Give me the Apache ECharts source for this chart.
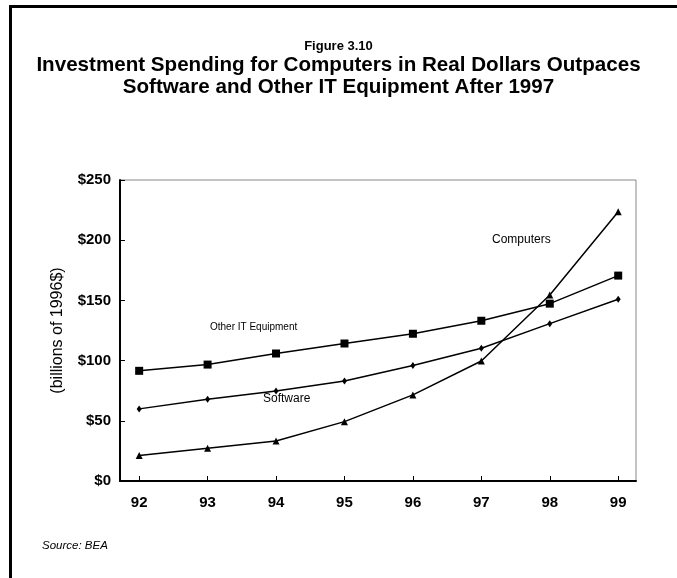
<!DOCTYPE html>
<html>
<head>
<meta charset="utf-8">
<script src="https://cdn.jsdelivr.net/npm/echarts@6/dist/echarts.min.js"></script>
<style>
html,body{margin:0;padding:0;background:#fff;}
#chart{width:677px;height:578px;}
</style>
</head>
<body>
<div id="chart"></div>
<script>
// ---- data ----
var years = [92, 93, 94, 95, 96, 97, 98, 99];
var xTickLabels = ['92', '93', '94', '95', '96', '97', '98', '99'];
var otherIT = [91.5, 96.7, 105.9, 114.2, 122.3, 133.1, 147.3, 170.6];
var software = [59.9, 67.9, 74.8, 83.1, 96.0, 110.2, 130.7, 150.9];
var computers = [21.1, 27.2, 33.2, 49.3, 71.5, 99.7, 154.5, 223.7];

var FONT = '"Liberation Sans", Arial, sans-serif';

function pairs(xs, ys) { return xs.map(function (x, i) { return [x, ys[i]]; }); }

var chart = echarts.init(document.getElementById('chart'), null, { renderer: 'canvas' });

var lineStyle = { color: '#000', width: 1.5 };

var option = {
  backgroundColor: '#fff',
  animation: false,
  grid: { left: 120, right: 41, top: 180, bottom: 97, show: true, borderColor: '#888', borderWidth: 1, containLabel: false },
  xAxis: {
    type: 'value', min: 91.72, max: 99.26,
    axisLine: { show: true, lineStyle: { color: '#000', width: 2 } },
    axisTick: { show: true, inside: true, length: 5, customValues: years, lineStyle: { color: '#000', width: 1 } },
    axisLabel: { customValues: years, margin: 14,
      formatter: function (v) { return xTickLabels[years.indexOf(Math.round(v))]; },
      fontFamily: FONT, fontSize: 15, fontWeight: 'bold', color: '#000' },
    splitLine: { show: false }
  },
  yAxis: {
    type: 'value', min: 0, max: 250, interval: 50,
    name: '(billions of 1996$)', nameLocation: 'middle', nameRotate: 90, nameGap: 54,
    nameTextStyle: { fontFamily: FONT, fontSize: 16, color: '#000' },
    axisLine: { show: true, lineStyle: { color: '#000', width: 2 } },
    axisTick: { show: true, inside: true, length: 5, lineStyle: { color: '#000', width: 1 } },
    axisLabel: { margin: 9, formatter: function (v) { return '$' + v; },
      fontFamily: FONT, fontSize: 15, fontWeight: 'bold', color: '#000' },
    splitLine: { show: false }
  },
  series: [
    { name: 'Other IT Equipment', type: 'line', data: pairs(years, otherIT),
      symbol: 'rect', symbolSize: 8, itemStyle: { color: '#000' }, lineStyle: lineStyle },
    { name: 'Software', type: 'line', data: pairs(years, software),
      symbol: 'diamond', symbolSize: [5, 7], itemStyle: { color: '#000' }, lineStyle: lineStyle },
    { name: 'Computers', type: 'line', data: pairs(years, computers),
      symbol: 'triangle', symbolSize: 7, itemStyle: { color: '#000' }, lineStyle: lineStyle }
  ],
  graphic: [
    { type: 'rect', shape: { x: 9, y: 5, width: 668, height: 3 }, style: { fill: '#000' } },
    { type: 'rect', shape: { x: 9, y: 5, width: 3, height: 573 }, style: { fill: '#000' } },
    { type: 'text', x: 338.5, y: 46, style: { text: 'Figure 3.10', font: 'bold 13px ' + FONT, fill: '#000', align: 'center', verticalAlign: 'middle' } },
    { type: 'text', x: 338.5, y: 65, style: { text: 'Investment Spending for Computers in Real Dollars Outpaces', font: 'bold 20.6px ' + FONT, fill: '#000', align: 'center', verticalAlign: 'middle' } },
    { type: 'text', x: 338.5, y: 87.5, style: { text: 'Software and Other IT Equipment After 1997', font: 'bold 20.6px ' + FONT, fill: '#000', align: 'center', verticalAlign: 'middle' } },
    { type: 'text', x: 210, y: 322, style: { text: 'Other IT Equipment', font: '10px ' + FONT, fill: '#000' } },
    { type: 'text', x: 263, y: 393, style: { text: 'Software', font: '12px ' + FONT, fill: '#000' } },
    { type: 'text', x: 492, y: 234, style: { text: 'Computers', font: '12px ' + FONT, fill: '#000' } },
    { type: 'text', x: 42, y: 540, style: { text: 'Source: BEA', font: 'italic 11.5px ' + FONT, fill: '#000' } }
  ]
};
chart.setOption(option);
</script>
</body>
</html>
